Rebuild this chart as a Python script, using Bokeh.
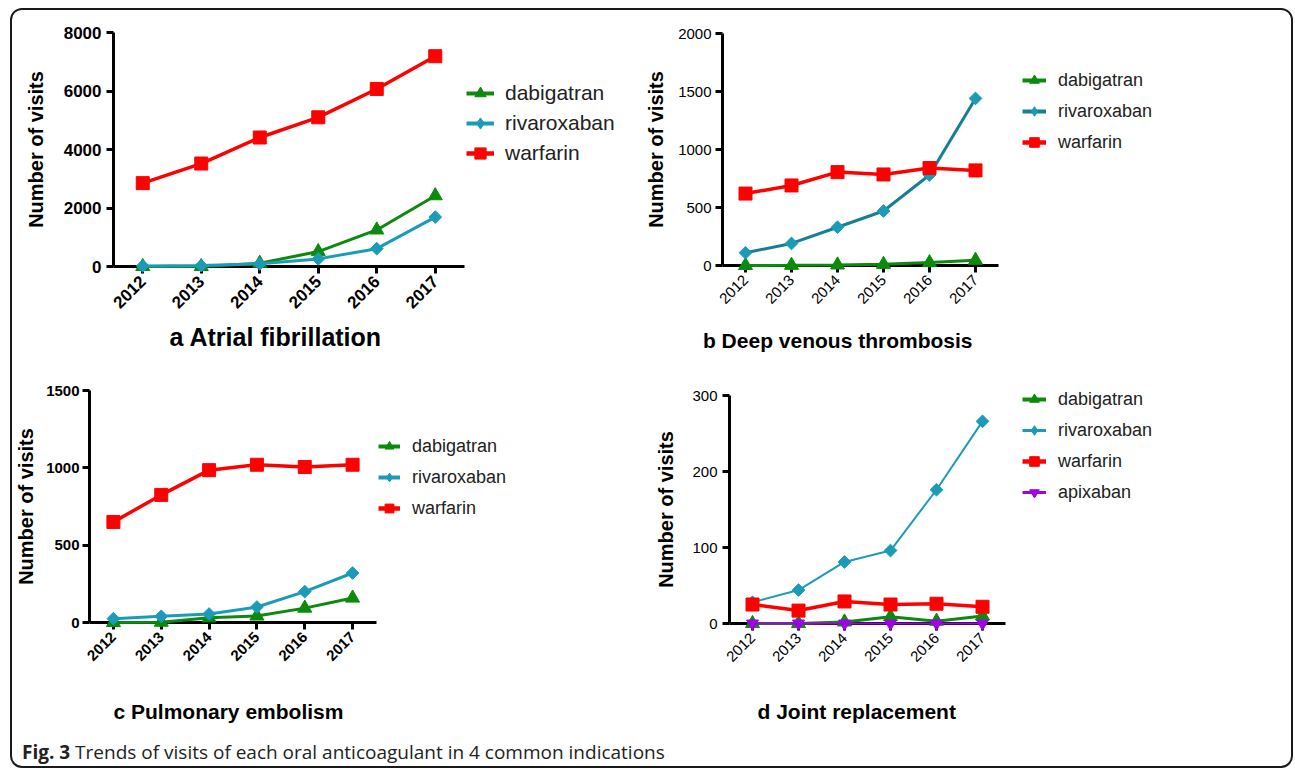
import numpy as np
from bokeh.plotting import figure
from bokeh.models import Range1d, FixedTicker, Legend, LegendItem, Title, Div
from bokeh.layouts import row, column
from bokeh.embed import file_html
from bokeh.resources import INLINE

years = [2012, 2013, 2014, 2015, 2016, 2017]

# a Atrial fibrillation
af_dabigatran = [0, 0, 110, 510, 1250, 2420]
af_rivaroxaban = [20, 30, 90, 260, 610, 1690]
af_warfarin = [2850, 3520, 4410, 5100, 6070, 7190]

# b Deep venous thrombosis
dvt_dabigatran = [0, 2, 5, 10, 25, 45]
dvt_rivaroxaban = [110, 190, 330, 470, 780, 1440]
dvt_warfarin = [620, 690, 805, 785, 840, 820]

# c Pulmonary embolism
pe_dabigatran = [0, 2, 30, 42, 93, 158]
pe_rivaroxaban = [25, 40, 55, 100, 200, 320]
pe_warfarin = [650, 825, 985, 1020, 1005, 1020]

# d Joint replacement
jr_dabigatran = [0, 0, 2, 9, 3, 10]
jr_rivaroxaban = [28, 44, 81, 96, 176, 266]
jr_warfarin = [25, 17, 29, 25, 26, 22]
jr_apixaban = [0, 0, 0, 0, 0, 0]

GREEN = "#0b8a0b"
TEAL = "#1b9bb8"
TEAL_DARK = "#167f98"
RED = "#ff0000"
PURPLE = "#a000e6"

SANS = "Liberation Sans"


def make_panel(width, height, fl, ft, fw, fh, ymax, ystep, series, title,
               title_align, title_offset, title_gap, tick_size, tick_style,
               legend_xy, legend_standoff, legend_glyph_w, legend_spacing,
               legend_size, title_size, ylabel_standoff, ytick_standoff=5,
               wrap_legend=False):
    chart_w = fl + fw + 2
    p = figure(width=chart_w, height=height,
               x_range=Range1d(2011.5, 2017.5), y_range=Range1d(0, ymax),
               output_backend="svg", toolbar_location=None,
               min_border_left=fl, min_border_top=ft,
               min_border_right=2,
               min_border_bottom=height - ft - fh)
    p.outline_line_color = None
    p.grid.visible = False
    p.background_fill_color = "white"
    p.border_fill_color = "white"

    for ax in (p.xaxis[0], p.yaxis[0]):
        ax.axis_line_width = 3
        ax.axis_line_color = "black"
        ax.major_tick_line_width = 3
        ax.major_tick_line_color = "black"
        ax.major_tick_in = 0
        ax.major_tick_out = 7
        ax.minor_tick_line_color = None
        ax.major_label_text_font = SANS
        ax.major_label_text_font_size = tick_size
        ax.major_label_text_font_style = tick_style
        ax.major_label_text_color = "black"
        ax.major_label_standoff = 5

    p.xaxis.ticker = FixedTicker(ticks=years)
    p.xaxis.major_label_orientation = np.pi / 4
    # blank x-axis label only used as a spacer above the panel title
    p.xaxis.axis_label = " "
    p.xaxis.axis_label_text_font_size = "1px"
    p.xaxis.axis_label_standoff = title_gap

    p.yaxis.ticker = FixedTicker(ticks=list(range(0, ymax + 1, ystep)))
    p.yaxis.major_label_standoff = ytick_standoff
    p.yaxis.axis_label = "Number of visits"
    p.yaxis.axis_label_text_font = SANS
    p.yaxis.axis_label_text_font_size = "20px"
    p.yaxis.axis_label_text_font_style = "bold"
    p.yaxis.axis_label_text_color = "black"
    p.yaxis.axis_label_standoff = ylabel_standoff

    t = Title(text=title, align=title_align, offset=title_offset, standoff=0,
              text_font=SANS, text_font_size=title_size, text_font_style="bold",
              text_color="black")
    p.add_layout(t, "below")

    # legend lives in its own small figure next to the chart
    lg = figure(width=width - chart_w, height=height, output_backend="svg",
                toolbar_location=None, x_axis_type=None, y_axis_type=None,
                min_border=0, x_range=Range1d(0, 1), y_range=Range1d(0, 1))
    lg.outline_line_color = None
    lg.grid.visible = False

    items = []
    for (label, vals, color, lcolor, lw, marker, msize, angle, lmarker) in series:
        p.line(years, vals, line_color=lcolor, line_width=lw, level="overlay")
        p.scatter(years, vals, marker=marker, size=msize, angle=angle,
                  fill_color=color, line_color=color, level="overlay")
        # same series in the legend figure (out of its visible range) -> legend glyphs
        l1 = lg.line(years, vals, line_color=lcolor, line_width=lw + 1)
        l2 = lg.scatter(years, vals, marker=lmarker, fill_color=color, line_color=color)
        items.append(LegendItem(label=label, renderers=[l1, l2]))

    legend = Legend(items=items, location=legend_xy, margin=0, padding=0,
                    border_line_color=None, background_fill_alpha=0,
                    glyph_width=legend_glyph_w, glyph_height=30, label_height=30,
                    spacing=legend_spacing, label_standoff=legend_standoff,
                    label_text_font=SANS, label_text_font_size=legend_size,
                    label_text_color="#222222")
    lg.add_layout(legend, "center")

    if wrap_legend:
        return row(p, column(lg))
    return row(p, lg)


fa = make_panel(630, 362, 101, 22, 351, 234, 8000, 2000,
                [("dabigatran", af_dabigatran, GREEN, GREEN, 3, "triangle", 14, 0, "triangle"),
                 ("rivaroxaban", af_rivaroxaban, TEAL, TEAL, 3, "square", 9, np.pi / 4, "diamond"),
                 ("warfarin", af_warfarin, RED, RED, 3.5, "square", 13, 0, "square")],
                "a Atrial fibrillation", "left", 56, 0, "17px", "bold",
                (0, 98), 11, 28, 0, "21px", "25px", 14)

fb = make_panel(649, 362, 78, 23, 278, 232, 2000, 500,
                [("dabigatran", dvt_dabigatran, GREEN, GREEN, 3, "triangle", 14, 0, "triangle"),
                 ("rivaroxaban", dvt_rivaroxaban, TEAL, TEAL_DARK, 3, "square", 9, np.pi / 4, "diamond"),
                 ("warfarin", dvt_warfarin, RED, RED, 3.5, "square", 13, 0, "square")],
                "b Deep venous thrombosis", "right", 26, 11, "15px", "normal",
                (22, 108), 12, 24, 1, "18px", "21px", 8, ytick_standoff=4)

fc = make_panel(630, 355, 76, 18, 288, 232, 1500, 500,
                [("dabigatran", pe_dabigatran, GREEN, GREEN, 3, "triangle", 14, 0, "triangle"),
                 ("rivaroxaban", pe_rivaroxaban, TEAL, TEAL, 3, "square", 9, np.pi / 4, "diamond"),
                 ("warfarin", pe_warfarin, RED, RED, 3.5, "square", 13, 0, "square")],
                "c Pulmonary embolism", "left", 24, 25, "15px", "bold",
                (0, 99), 12, 22, 1, "18px", "21px", 6, ytick_standoff=3)

fd = make_panel(649, 355, 87, 23, 276, 228, 300, 100,
                [("dabigatran", jr_dabigatran, GREEN, GREEN, 3, "triangle", 14, 0, "triangle"),
                 ("rivaroxaban", jr_rivaroxaban, TEAL, TEAL, 2, "square", 9, np.pi / 4, "diamond"),
                 ("warfarin", jr_warfarin, RED, RED, 3.5, "square", 13, 0, "square"),
                 ("apixaban", jr_apixaban, PURPLE, PURPLE, 2, "inverted_triangle", 12, 0, "inverted_triangle")],
                "d Joint replacement", "left", 28, 24, "15px", "normal",
                (15, 220), 12, 24, 1, "18px", "21px", 12, wrap_legend=True)

caption = Div(text='<b>Fig. 3</b> Trends of visits of each oral anticoagulant in 4 common indications',
              width=1279, height=39, margin=(0, 0, 0, 0),
              styles={"font-family": "Open Sans", "font-size": "19px", "color": "#222",
                      "padding-left": "10px", "padding-top": "12px"})

layout = column(row(fa, fb), row(fc, fd), caption, margin=(8, 0, 0, 10),
                styles={"border": "2px solid #1a1a1a", "border-radius": "12px",
                        "overflow": "hidden"})

open("out.html", "w").write(file_html(layout, INLINE))
